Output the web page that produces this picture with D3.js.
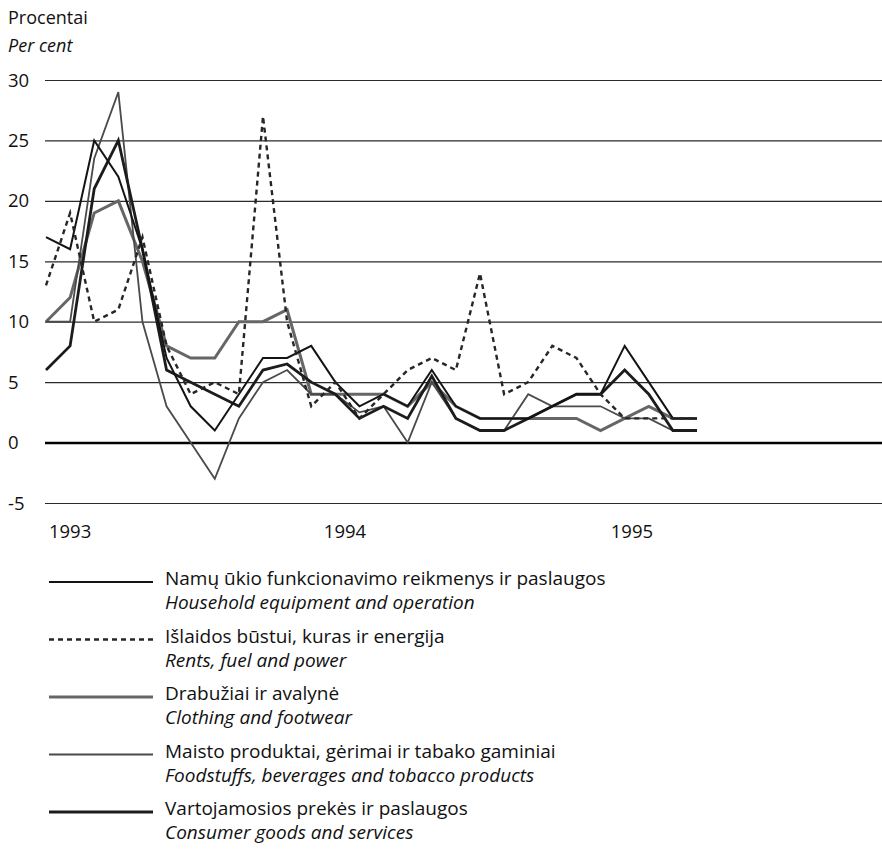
<!DOCTYPE html>
<html>
<head>
<meta charset="utf-8">
<script src="https://cdn.jsdelivr.net/npm/d3@7"></script>
<style>
  html, body { margin: 0; padding: 0; background: #fff; }
  svg { display: block; }
  text { font-family: "Open Sans", "Noto Sans", sans-serif; fill: #111; }
</style>
</head>
<body>
<svg id="chart" width="882" height="865"></svg>
<script>
// Months from January 1993 (index 0) to April 1995 (index 27)
const months = d3.range(0, 28);

const household = [17, 16, 25, 22, 16, 7, 3, 1, 4, 7, 7, 8, 5, 3, 4, 3, 6, 3, 2, 2, 2, 3, 4, 4, 8, 5, 2, 2];
const rents     = [13, 19, 10, 11, 17, 8, 4, 5, 4, 27, 10, 3, 5, 2, 4, 6, 7, 6, 14, 4, 5, 8, 7, 4, 2, 2, 2, 2];
const clothing  = [10, 12, 19, 20, 15, 8, 7, 7, 10, 10, 11, 4, 4, 4, 4, 3, 5, 3, 2, 2, 2, 2, 2, 1, 2, 3, 2, 2];
const food      = [10, 10, 23.5, 29, 10, 3, 0, -3, 2, 5, 6, 4, 4, 2.5, 3, 0, 5, 2, 1, 1, 4, 3, 3, 3, 2, 2, 1, 1];
const consumer  = [6, 8, 21, 25, 16, 6, 5, 4, 3, 6, 6.5, 5, 4, 2, 3, 2, 5.5, 2, 1, 1, 2, 3, 4, 4, 6, 4, 1, 1];

const yTicks = [30, 25, 20, 15, 10, 5, 0, -5];
const yearLabels = ["1993", "1994", "1995"];
const yearPositions = [1, 12.4, 24.3]; // in month index units

const seriesNames = [
  ["Namų ūkio funkcionavimo reikmenys ir paslaugos", "Household equipment and operation"],
  ["Išlaidos būstui, kuras ir energija", "Rents, fuel and power"],
  ["Drabužiai ir avalynė", "Clothing and footwear"],
  ["Maisto produktai, gėrimai ir tabako gaminiai", "Foodstuffs, beverages and tobacco products"],
  ["Vartojamosios prekės ir paslaugos", "Consumer goods and services"]
];
const seriesData = [household, rents, clothing, food, consumer];
const seriesStyle = [
  { color: "#141414", width: 2.0, dash: null },
  { color: "#262626", width: 2.4, dash: "5,4" },
  { color: "#666666", width: 3.0, dash: null },
  { color: "#4a4a4a", width: 1.8, dash: null },
  { color: "#1c1c1c", width: 2.8, dash: null }
];

const svg = d3.select("#chart");
const x = d3.scaleLinear().domain([0, 27]).range([46, 697]);
const y = d3.scaleLinear().domain([-5, 30]).range([503, 80]);
const gridLeft = 45, gridRight = 882;

// titles
svg.append("text").attr("x", 8).attr("y", 24).style("font-size", "18px").text("Procentai");
svg.append("text").attr("x", 8).attr("y", 52).style("font-size", "18px").style("font-style", "italic").text("Per cent");

// grid via axis
const yAxis = d3.axisLeft(y).tickValues(yTicks).tickSize(-(gridRight - gridLeft)).tickFormat("");
const gy = svg.append("g").attr("transform", `translate(${gridLeft},0)`).call(yAxis);
gy.select(".domain").remove();
gy.selectAll(".tick line")
  .attr("stroke", d => d === 0 ? "#000" : "#2a2a2a")
  .attr("stroke-width", d => d === 0 ? 2.6 : 1.2);

// y tick labels (left aligned)
svg.append("g").selectAll("text").data(yTicks).join("text")
  .attr("x", 8).attr("y", d => y(d) + 6.5)
  .style("font-size", "18.5px")
  .text(d => d);

// year labels
svg.append("g").selectAll("text").data(yearLabels).join("text")
  .attr("x", (d, i) => x(yearPositions[i]))
  .attr("y", 538)
  .attr("text-anchor", "middle")
  .style("font-size", "18.5px")
  .text(d => d);

// lines (draw lighter/thicker first so darker are on top)
const line = d3.line().x((d, i) => x(months[i])).y(d => y(d));
const order = [2, 3, 4, 0, 1];
order.forEach(k => {
  const st = seriesStyle[k];
  svg.append("path")
    .datum(seriesData[k])
    .attr("d", line)
    .attr("fill", "none")
    .attr("stroke", st.color)
    .attr("stroke-width", st.width)
    .attr("stroke-linejoin", "miter")
    .attr("stroke-dasharray", st.dash);
});

// legend
const legendTop = 585, legendStep = 57.5;
seriesNames.forEach((nm, k) => {
  const by = legendTop + k * legendStep;
  const st = seriesStyle[k];
  svg.append("line")
    .attr("x1", 49).attr("x2", 153)
    .attr("y1", by - 3).attr("y2", by - 3)
    .attr("stroke", st.color)
    .attr("stroke-width", st.width)
    .attr("stroke-dasharray", st.dash);
  svg.append("text").attr("x", 165).attr("y", by).style("font-size", "19px").text(nm[0]);
  svg.append("text").attr("x", 165).attr("y", by + 24).style("font-size", "19px").style("font-style", "italic").text(nm[1]);
});
</script>
</body>
</html>
